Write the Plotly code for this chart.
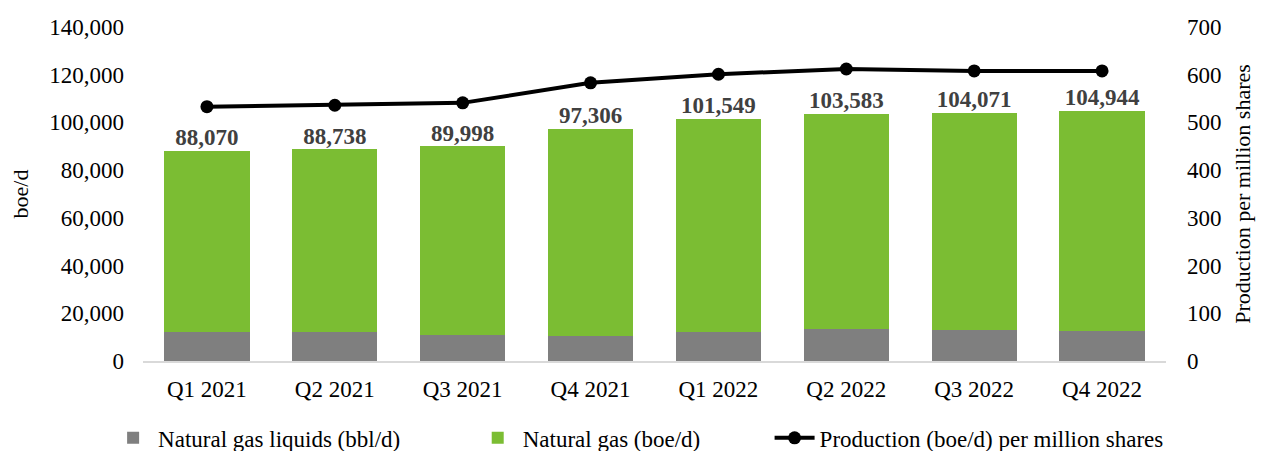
import plotly.graph_objects as go

quarters = ["Q1 2021", "Q2 2021", "Q3 2021", "Q4 2021", "Q1 2022", "Q2 2022", "Q3 2022", "Q4 2022"]
totals = [88070, 88738, 89998, 97306, 101549, 103583, 104071, 104944]
ngl = [12000, 12300, 11000, 10600, 12000, 13300, 13100, 12700]
natural_gas = [t - n for t, n in zip(totals, ngl)]
per_share = [533, 536, 541, 583, 601, 612, 608, 608]

FONT = "Liberation Serif, Times New Roman, serif"

fig = go.Figure()
fig.add_trace(go.Bar(x=quarters, y=ngl, name="Natural gas liquids (bbl/d)", legend="legend",
                     marker=dict(color="#7f7f7f", line=dict(width=0))))
fig.add_trace(go.Bar(x=quarters, y=natural_gas, name="Natural gas (boe/d)", legend="legend2",
                     marker=dict(color="#7bbd33", line=dict(width=0))))
fig.add_trace(go.Scatter(x=quarters, y=totals, mode="text",
                         text=[f"{v:,}" for v in totals], textposition="top center",
                         textfont=dict(family=FONT, size=23, color="#404040", weight="bold"),
                         showlegend=False, hoverinfo="skip", cliponaxis=False))
fig.add_trace(go.Scatter(x=quarters, y=per_share, name="Production (boe/d) per million shares",
                         legend="legend3",
                         mode="lines+markers", yaxis="y2",
                         line=dict(color="black", width=4),
                         marker=dict(color="black", size=13)))

leg_common = dict(orientation="h", xanchor="left", yref="container", y=0.029,
                  yanchor="middle", font=dict(size=23), itemwidth=40,
                  bgcolor="rgba(0,0,0,0)", borderwidth=0)

fig.update_layout(
    width=1263, height=451,
    margin=dict(l=143, r=93, t=27, b=90),
    barmode="stack", bargap=0.334,
    plot_bgcolor="white", paper_bgcolor="white",
    font=dict(family=FONT, size=23, color="#000000"),
    xaxis=dict(showline=True, linecolor="#d9d9d9", linewidth=2, ticks="",
               tickfont=dict(size=23), ticklabelstandoff=6),
    yaxis=dict(range=[0, 140000], dtick=20000, tickformat=",", showgrid=False,
               zeroline=False, ticks="", ticklabelstandoff=18,
               title=dict(text="boe/d", font=dict(size=22), standoff=14)),
    yaxis2=dict(range=[0, 700], dtick=100, overlaying="y", side="right",
                showgrid=False, zeroline=False, ticks="", ticklabelstandoff=20,
                title=dict(text="Production per million shares", font=dict(size=22), standoff=14)),
    legend=dict(x=-0.0341, **leg_common),
    legend2=dict(x=0.3223, **leg_common),
    legend3=dict(x=0.6125, **leg_common),
    showlegend=True,
)

fig.write_html("out.html")
